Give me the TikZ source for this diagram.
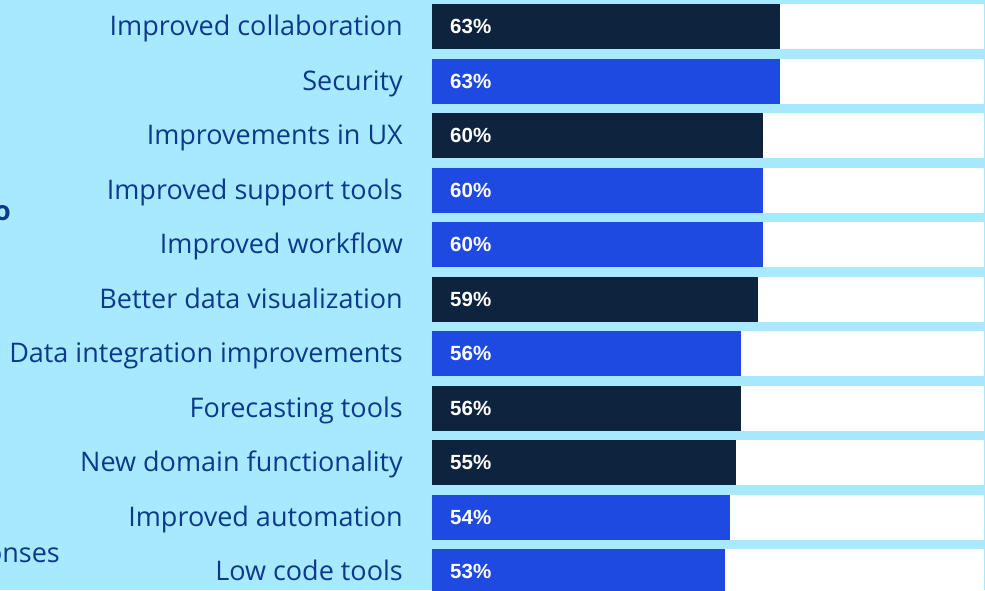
\documentclass[tikz,border=0pt]{standalone}
\usepackage{fontspec}
\setmainfont{Open Sans}
\newfontfamily\pctfont{Liberation Sans}
\definecolor{bgc}{HTML}{A9E9FF}
\definecolor{navy}{HTML}{0E233D}
\definecolor{bblue}{HTML}{1F4AE1}
\definecolor{lblc}{HTML}{0B3A8C}
\tikzset{
  lbl/.style={anchor=base east, inner sep=0pt, text=lblc, font=\fontsize{27}{30}\selectfont},
  pct/.style={anchor=west, inner sep=0pt, text=white, font=\pctfont\bfseries\fontsize{20.5}{23}\selectfont},
  track/.style={fill=white, draw=none},
}
\begin{document}
\begin{tikzpicture}[x=1pt,y=-1pt]
\useasboundingbox (0,0) rectangle (985,590);
\clip (0,0) rectangle (985,590);
\fill[bgc] (0,0) rectangle (985,590);
\foreach \i/\lab/\v/\c in {
  0/Improved collaboration/63/navy,
  1/Security/63/bblue,
  2/Improvements in UX/60/navy,
  3/Improved support tools/60/bblue,
  4/Improved workflow/60/bblue,
  5/Better data visualization/59/navy,
  6/Data integration improvements/56/bblue,
  7/Forecasting tools/56/navy,
  8/New domain functionality/55/navy,
  9/Improved automation/54/bblue,
  10/Low code tools/53/bblue}{
  \pgfmathsetmacro{\yt}{4+54.5*\i}
  \pgfmathsetmacro{\yb}{\yt+45}
  \pgfmathsetmacro{\yc}{\yt+22.5}
  \pgfmathsetmacro{\ybl}{\yt+31.8}
  \pgfmathsetmacro{\xe}{432+5.52*\v}
  \fill[track] (432,\yt) rectangle (984,\yb);
  \fill[\c] (432,\yt) rectangle (\xe,\yb);
  \node[lbl] (lab\i) at (403,\ybl) {\lab};
  \node[pct] (pct\i) at (450,\yc) {\v\%};
}
\node[anchor=base east, inner sep=0pt, text=lblc, font=\bfseries\fontsize{27}{30}\selectfont] (cuttitle) at (11,220) {o};
\node[anchor=base east, inner sep=0pt, text=lblc, font=\fontsize{27}{30}\selectfont] (cutnote) at (60,562) {responses};
\end{tikzpicture}
\end{document}
